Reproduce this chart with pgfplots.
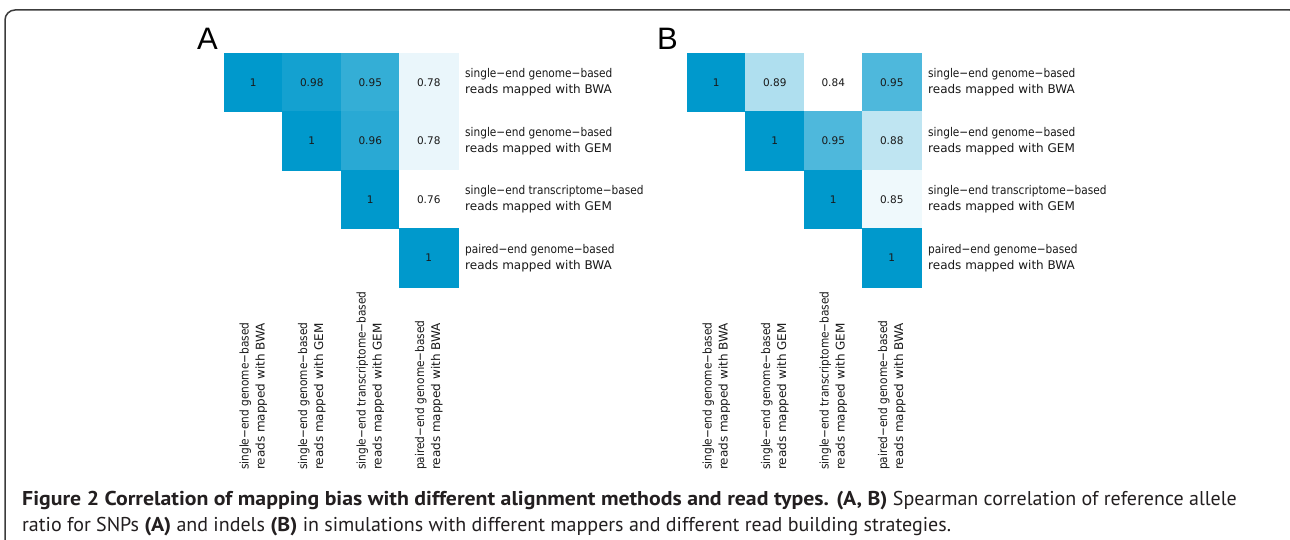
\documentclass[border=0pt]{standalone}
\usepackage{graphicx}
\usepackage{fontspec}
\usepackage{pgfplots}
\pgfplotsset{compat=1.18}
\setmainfont{DejaVu Sans}
\newfontfamily\labfont{DejaVu Sans}
\newfontfamily\capfont[BoldFeatures={FakeStretch=1.09}]{PT Sans}
\newfontfamily\panelfont{Liberation Sans}
\definecolor{frame}{RGB}{60,60,60}
\definecolor{captext}{RGB}{35,31,32}

% correlation values, one row per cell: column, row (counted from the bottom), rho
\pgfplotstableread{
x y v
1 4 1
2 4 0.98
3 4 0.95
4 4 0.78
2 3 1
3 3 0.96
4 3 0.78
3 2 1
4 2 0.76
4 1 1
}\snps
\pgfplotstableread{
x y v
1 4 1
2 4 0.89
3 4 0.84
4 4 0.95
2 3 1
3 3 0.95
4 3 0.88
3 2 1
4 2 0.85
4 1 1
}\indels

\newcommand{\sq}[1]{\scalebox{0.88}[1]{#1}}

\pgfplotsset{
  corrmap/.style={
    scale only axis, width=234pt, height=234pt,
    xmin=0.5, xmax=4.5, ymin=0.5, ymax=4.5,
    clip=false,
    axis line style={draw=none},
    major tick length=0pt,
    colormap={blues}{rgb255=(255,255,255) rgb255=(0,153,204)},
    /pgf/number format/assume math mode=true,
    xtick={1,2,3,4}, ytick={1,2,3,4},
    xticklabels={
      {\sq{single−end genome−based}\\reads mapped with BWA},
      {\sq{single−end genome−based}\\reads mapped with GEM},
      {\sq{single−end transcriptome−based}\\reads mapped with GEM},
      {\sq{paired−end genome−based}\\reads mapped with BWA}},
    yticklabels={
      {\sq{paired−end genome−based}\\reads mapped with BWA},
      {\sq{single−end transcriptome−based}\\reads mapped with GEM},
      {\sq{single−end genome−based}\\reads mapped with GEM},
      {\sq{single−end genome−based}\\reads mapped with BWA}},
    yticklabel pos=right,
    xticklabel style={font=\labfont\fontsize{12}{16}\selectfont, align=left,
      inner sep=0pt, yshift=-183pt, rotate=90, anchor=west, text=black!90},
    yticklabel style={font=\labfont\fontsize{12}{16}\selectfont, align=left,
      inner sep=0pt, anchor=west, xshift=7pt, text=black!90},
  },
  cells/.style={
    scatter, only marks, mark=square*, mark size=29.25pt,
    point meta=explicit,
    scatter/use mapped color={draw=mapped color, fill=mapped color},
    mark options={line width=0.3pt},
    nodes near coords*,
    every node near coord/.append style={anchor=center,
      font=\labfont\fontsize{10.5}{12}\selectfont, text=black!90},
  },
}

\begin{document}
\begin{tikzpicture}
\useasboundingbox (0pt,0pt) rectangle (1290pt,-540pt);
\fill[white] (0pt,0pt) rectangle (1290pt,-540pt);
\draw[frame, line width=1.5pt, rounded corners=10pt] (5pt,-10pt) rectangle (1300pt,-580pt);

% panel A: SNPs
\begin{axis}[corrmap, at={(224pt,-53pt)}, anchor=north west,
  point meta min=0.76, point meta max=1]
\addplot[cells] table[x=x, y=y, meta=v] {\snps};
\end{axis}

% panel B: indels
\begin{axis}[corrmap, at={(687pt,-53pt)}, anchor=north west,
  point meta min=0.84, point meta max=1]
\addplot[cells] table[x=x, y=y, meta=v] {\indels};
\end{axis}

\node[anchor=base west, inner sep=0pt, font=\panelfont\fontsize{31}{31}\selectfont] at (197pt,-50pt) {A};
\node[anchor=base west, inner sep=0pt, font=\panelfont\fontsize{31}{31}\selectfont] at (657pt,-50pt) {B};

% figure caption, two lines
\node[anchor=base west, inner sep=0pt, text=captext,
  font=\capfont\fontsize{20}{26}\selectfont] at (22pt,-505pt)
  {\textbf{Figure 2 Correlation of mapping bias with different alignment methods and read types. (A, B)} Spearman correlation of reference allele};
\node[anchor=base west, inner sep=0pt, text=captext,
  font=\capfont\fontsize{20}{26}\selectfont] at (22pt,-531pt)
  {ratio for SNPs \textbf{(A)} and indels \textbf{(B)} in simulations with different mappers and different read building strategies.};
\end{tikzpicture}
\end{document}
